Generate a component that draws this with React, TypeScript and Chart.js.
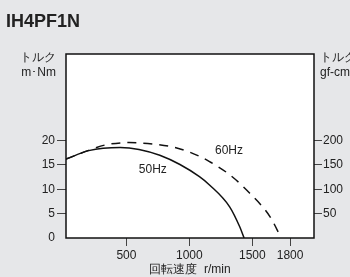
import React, { useEffect, useRef } from "react";
import { Chart, registerables } from "chart.js";

Chart.register(...registerables);

const chartTitle = "IH4PF1N";
const leftAxisTitle = ["トルク", "m･Nm"];
const rightAxisTitle = ["トルク", "gf-cm"];
const xAxisTitle = "回転速度  r/min";
const xTickValues = [500, 1000, 1500, 1800];
const yLeftTicks = [0, 5, 10, 15, 20];
const yRightTicks = [50, 100, 150, 200];

const speed50 = [20, 200, 450, 600, 765, 925, 1080, 1160, 1320, 1400, 1435];
const torque50 = [16.2, 17.95, 18.6, 18.2, 17.0, 15.1, 12.6, 10.9, 6.4, 2.3, 0];
const speed60 = [20, 200, 330, 520, 710, 900, 1080, 1160, 1320, 1480, 1640, 1730];
const torque60 = [16.2, 18.0, 19.1, 19.6, 19.3, 18.5, 16.8, 15.7, 13.0, 9.2, 4.4, 0];

const curveLabels = ["50Hz", "60Hz"];
const curveLabelX = [710, 1315];
const curveLabelY = [14.0, 17.9];

const FONT = "'Liberation Sans', Arial, Helvetica, sans-serif";
const BG = "#e6e7e9";
const INK = "#222222";

const decorPlugin = {
  id: "decor",
  beforeDraw(chart: any) {
    const { ctx, chartArea, width, height } = chart;
    ctx.save();
    ctx.fillStyle = BG;
    ctx.fillRect(0, 0, width, height);
    ctx.fillStyle = "#ffffff";
    ctx.fillRect(chartArea.left, chartArea.top, chartArea.right - chartArea.left, chartArea.bottom - chartArea.top);
    ctx.restore();
  },
  afterDraw(chart: any) {
    const { ctx, chartArea, scales } = chart;
    ctx.save();
    ctx.strokeStyle = "#111111";
    ctx.lineWidth = 1.5;
    ctx.strokeRect(chartArea.left, chartArea.top, chartArea.right - chartArea.left, chartArea.bottom - chartArea.top);

    ctx.fillStyle = INK;
    ctx.font = `bold 18px ${FONT}`;
    ctx.textAlign = "left";
    ctx.textBaseline = "middle";
    ctx.fillText(chartTitle, 6, 22);

    ctx.font = `12px ${FONT}`;
    ctx.textAlign = "right";
    ctx.fillText(leftAxisTitle[0], 56, 58);
    ctx.fillText(leftAxisTitle[1], 56, 73);
    ctx.textAlign = "left";
    ctx.fillText(rightAxisTitle[0], chartArea.right + 6, 58);
    ctx.fillText(rightAxisTitle[1], chartArea.right + 6, 73);

    ctx.textAlign = "center";
    for (let i = 0; i < curveLabels.length; i++) {
      const px = scales.x.getPixelForValue(curveLabelX[i]);
      const py = scales.y.getPixelForValue(curveLabelY[i]);
      ctx.fillText(curveLabels[i], px, py);
    }
    ctx.restore();
  },
};

export default function App() {
  const ref = useRef<HTMLCanvasElement | null>(null);

  useEffect(() => {
    document.body.style.margin = "0";
    const canvas = ref.current;
    if (!canvas) return;
    Chart.defaults.font.family = FONT;
    Chart.defaults.font.size = 12;
    Chart.defaults.color = INK;

    const chart = new Chart(canvas, {
      type: "scatter",
      data: {
        datasets: [
          {
            label: "50Hz",
            data: speed50.map((x, i) => ({ x, y: torque50[i] })),
            showLine: true,
            borderColor: "#111111",
            borderWidth: 1.5,
            pointRadius: 0,
            cubicInterpolationMode: "monotone",
            yAxisID: "y",
          },
          {
            label: "60Hz",
            data: speed60.map((x, i) => ({ x, y: torque60[i] })),
            showLine: true,
            borderColor: "#111111",
            borderWidth: 1.5,
            borderDash: [9, 7],
            pointRadius: 0,
            cubicInterpolationMode: "monotone",
            yAxisID: "y",
          },
        ],
      },
      options: {
        responsive: false,
        animation: false,
        events: [],
        layout: { padding: { top: 54, left: 0, right: 0, bottom: 0 } },
        plugins: {
          legend: { display: false },
          tooltip: { enabled: false },
          title: { display: false },
        },
        scales: {
          x: {
            type: "linear",
            position: "bottom",
            min: 20,
            max: 1990,
            afterBuildTicks: (s: any) => {
              s.ticks = xTickValues.map((v) => ({ value: v }));
            },
            afterFit: (s: any) => {
              s.height = 39;
            },
            ticks: { padding: 2, color: INK, font: { size: 12 }, callback: (v: any) => String(v) },
            grid: { drawOnChartArea: false, drawTicks: true, tickLength: 8, tickColor: "#444444", tickWidth: 1 },
            border: { display: false },
            title: { display: true, text: xAxisTitle, color: INK, font: { size: 12 }, padding: { top: 0, bottom: 0 } },
          },
          y: {
            type: "linear",
            position: "left",
            min: 0,
            max: 37.8,
            afterBuildTicks: (s: any) => {
              s.ticks = yLeftTicks.map((v) => ({ value: v }));
            },
            afterFit: (s: any) => {
              s.width = 66;
            },
            ticks: { padding: 2, color: INK, font: { size: 12 }, callback: (v: any) => String(v) },
            grid: {
              drawOnChartArea: false,
              drawTicks: true,
              tickLength: 9,
              tickWidth: 1,
              tickColor: (c: any) => (c.tick && c.tick.value === 0 ? "rgba(0,0,0,0)" : "#444444"),
            },
            border: { display: false },
          },
          y2: {
            type: "linear",
            position: "right",
            min: 0,
            max: 378,
            afterBuildTicks: (s: any) => {
              s.ticks = yRightTicks.map((v) => ({ value: v }));
            },
            afterFit: (s: any) => {
              s.width = 36;
            },
            ticks: { padding: 1, color: INK, font: { size: 12 }, callback: (v: any) => String(v) },
            grid: { drawOnChartArea: false, drawTicks: true, tickLength: 8, tickWidth: 1, tickColor: "#444444" },
            border: { display: false },
          },
        },
      } as any,
      plugins: [decorPlugin],
    });
    return () => chart.destroy();
  }, []);

  return (
    <div style={{ position: "fixed", left: 0, top: 0, width: 350, height: 277, background: BG }}>
      <canvas ref={ref} width={350} height={277} style={{ display: "block", width: 350, height: 277 }} />
    </div>
  );
}
